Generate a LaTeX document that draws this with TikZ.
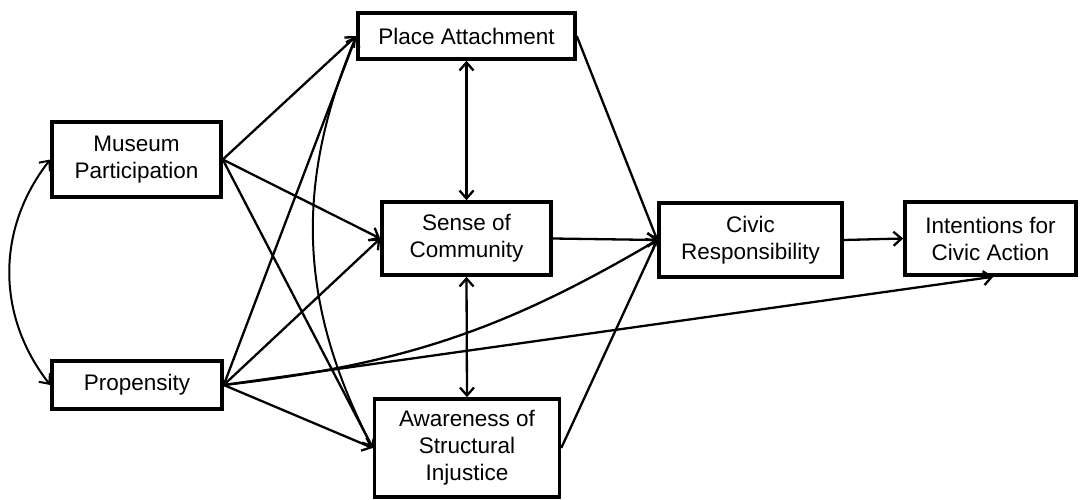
\documentclass[tikz,border=0pt]{standalone}
\usepackage{fontspec}
\setmainfont{Liberation Sans}
\usetikzlibrary{arrows.meta}
\begin{document}
\begin{tikzpicture}[x=1pt,y=-1pt,
  box/.style={draw,line width=3.5pt,align=center,inner sep=0pt,
    font=\fontsize{22.5}{27}\selectfont},
  arr/.style={line width=2.3pt,-{Straight Barb[length=8pt,width=14pt,line width=2.3pt]}},
  dbl/.style={line width=2.3pt,{Straight Barb[length=8pt,width=14pt,line width=2.3pt]}-{Straight Barb[length=8pt,width=14pt,line width=2.3pt]}},
  cov/.style={line width=2pt,{Straight Barb[length=8pt,width=14pt,line width=2pt]}-{Straight Barb[length=8pt,width=14pt,line width=2pt]}}
]
\useasboundingbox (0,0) rectangle (1080,500);
\node[box,minimum width=217pt,minimum height=46pt] (PA) at (466.5,36) {Place Attachment};
\node[box,minimum width=169pt,minimum height=75pt] (MP) at (136.5,159.5) {Museum\\Participation};
\node[box,minimum width=169pt,minimum height=73pt] (SC) at (466.5,238.5) {Sense of\\Community};
\node[box,minimum width=183pt,minimum height=74pt] (CR) at (750.5,240) {Civic\\Responsibility};
\node[box,minimum width=171pt,minimum height=73pt] (IN) at (990.5,238.5) {Intentions for\\Civic Action};
\node[box,minimum width=170pt,minimum height=48pt] (PR) at (137,385) {Propensity};
\node[box,minimum width=185pt,minimum height=98pt] (AW) at (467,448) {Awareness of\\Structural\\Injustice};
\coordinate (INb) at ([xshift=90pt]IN.south west);
% paths from Museum Participation
\draw[arr] (MP.east) -- (PA.west);
\draw[arr] (MP.east) -- (SC.west);
\draw[arr] (MP.east) -- (AW.west);
% paths from Propensity
\draw[arr] (PR.east) -- (PA.west);
\draw[arr] (PR.east) -- (SC.west);
\draw[arr] (PR.east) -- (AW.west);
\draw[arr] (PR.east) to[bend right=12] (CR.west);
\draw[arr] (PR.east) -- (INb);
% mediators
\draw[arr] (PA.east) -- (CR.west);
\draw[arr] (SC.east) -- (CR.west);
\draw[arr] (AW.east) -- (CR.west);
\draw[arr] (CR.east) -- (IN.west);
% covariances
\draw[dbl] (PA.south) -- (SC.north);
\draw[dbl] (SC.south) -- (AW.north);
\draw[cov] (PA.west) to[bend right=25] (AW.west);
\draw[cov] (MP.west) to[bend right=38] (PR.west);
\end{tikzpicture}
\end{document}
